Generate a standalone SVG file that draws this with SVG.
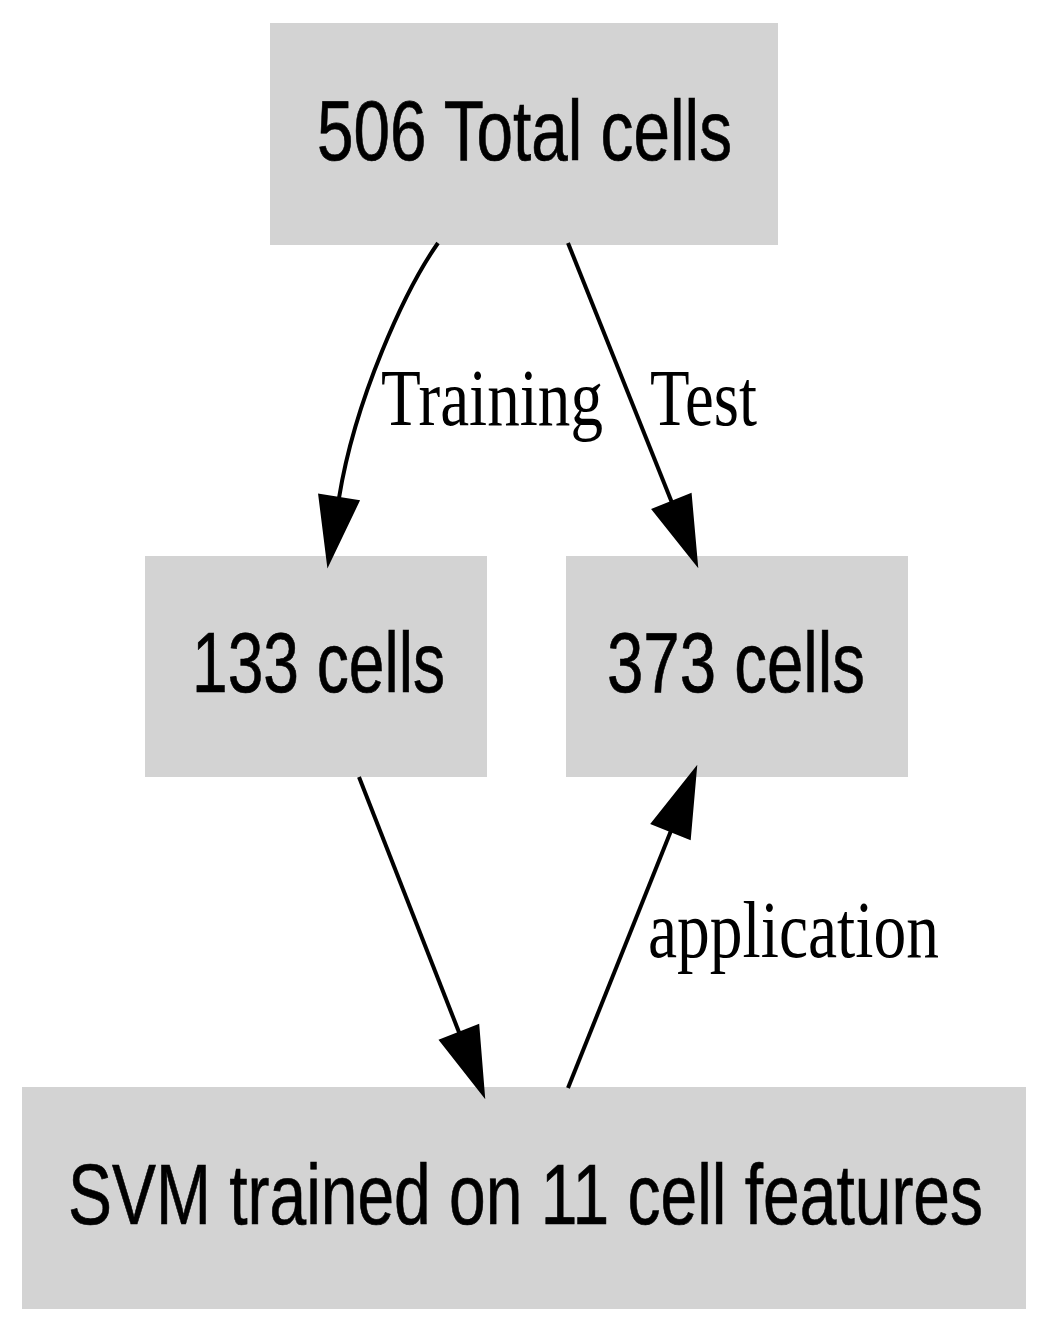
<svg xmlns="http://www.w3.org/2000/svg" width="1038" height="1318" viewBox="0 0 1038 1318">
<style>
.node rect{fill:#d3d3d3;stroke:none}
.node text{font-family:"Liberation Sans",Arial,Helvetica,sans-serif;font-size:64.5px;fill:#000;stroke:#000;stroke-width:0.5}
.edge path,.edge line{fill:none;stroke:#000;stroke-width:4}
.edge polygon{fill:#000;stroke:#000;stroke-width:2}
.edge text{font-family:"Liberation Serif","Times New Roman",serif;font-size:64.5px;fill:#000}
</style>
<rect width="1038" height="1318" fill="#fff"/>
<g id="node-total" class="node">
<rect x="270" y="23" width="508" height="222"/>
<text transform="translate(317,160) scale(1,1.318)" textLength="415" lengthAdjust="spacingAndGlyphs">506 Total cells</text>
</g>
<g id="node-train" class="node">
<rect x="145" y="556" width="342" height="221"/>
<text transform="translate(192,692) scale(1,1.318)" textLength="253" lengthAdjust="spacingAndGlyphs">133 cells</text>
</g>
<g id="node-test" class="node">
<rect x="566" y="556" width="342" height="221"/>
<text transform="translate(607,692) scale(1,1.318)" textLength="258" lengthAdjust="spacingAndGlyphs">373 cells</text>
</g>
<g id="node-svm" class="node">
<rect x="22" y="1087" width="1004" height="222"/>
<text transform="translate(68,1224) scale(1,1.318)" textLength="915" lengthAdjust="spacingAndGlyphs">SVM trained on 11 cell features</text>
</g>
<g id="connectors" class="edge">
<g id="edge-training">
<path d="M438,243 C405,290 355,399 339,498"/>
<polygon points="319.2,494.7 358.6,501.1 328,565"/>
<text transform="translate(381,425) scale(1,1.24)" textLength="222" lengthAdjust="spacingAndGlyphs">Training</text>
</g>
<g id="edge-test">
<line x1="568" y1="243" x2="671.7" y2="501.9"/>
<polygon points="690.7,494.3 652.7,509.5 697,565"/>
<text transform="translate(650,425) scale(1,1.24)" textLength="107" lengthAdjust="spacingAndGlyphs">Test</text>
</g>
<g id="edge-train-svm">
<line x1="359" y1="777" x2="459.2" y2="1032.7"/>
<polygon points="478.3,1025.2 440.1,1040.2 484,1096"/>
</g>
<g id="edge-application">
<line x1="568" y1="1088" x2="670.8" y2="831.2"/>
<polygon points="689.8,838.8 651.8,823.6 696,768"/>
<text transform="translate(648,957) scale(1,1.24)" textLength="291" lengthAdjust="spacingAndGlyphs">application</text>
</g>
</g>
</svg>
